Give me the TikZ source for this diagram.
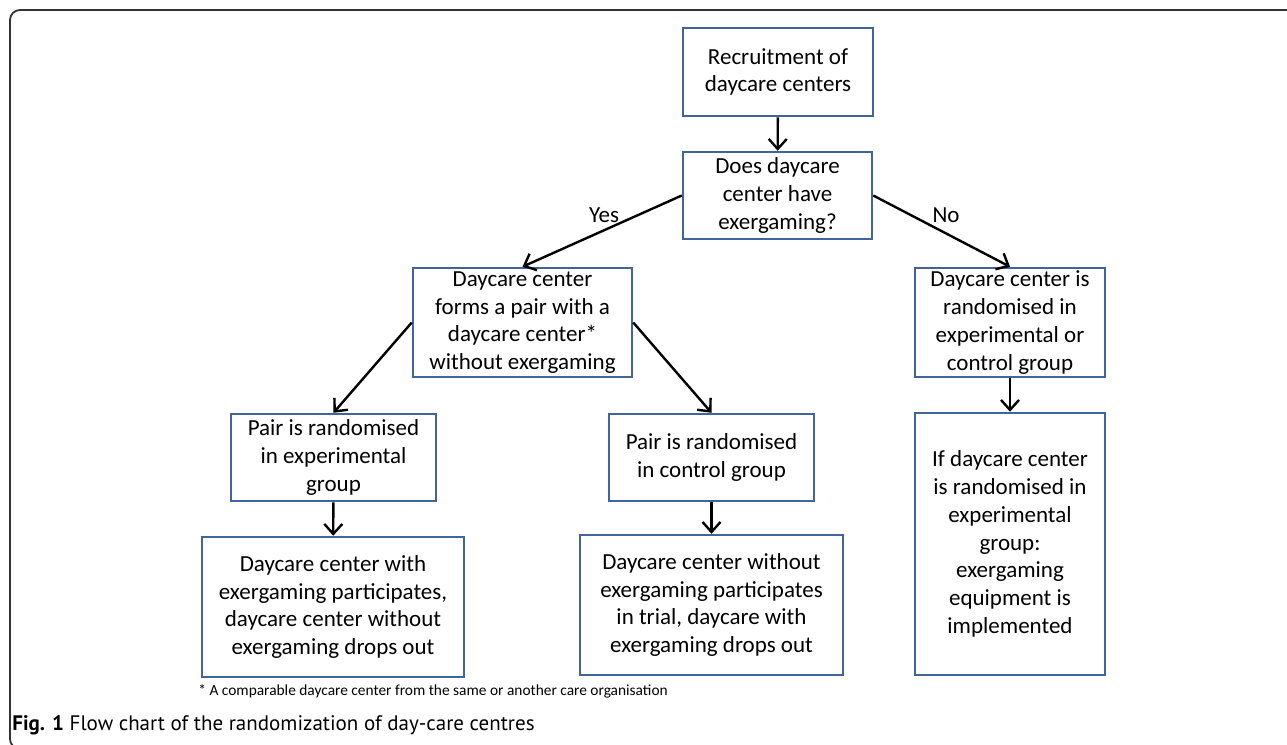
\documentclass[tikz,border=0pt]{standalone}
\usepackage{fontspec}
\setmainfont{Carlito}
\newfontfamily\capfont{PT Sans}
\usetikzlibrary{arrows, arrows.meta}
\usetikzlibrary{shapes}
\definecolor{boxblue}{RGB}{65,100,155}

\begin{document}
\begin{tikzpicture}[x=0.5pt,y=-0.5pt,>={Straight Barb[length=5pt,width=9pt]},
    box/.style={draw=boxblue,line width=1.25pt,align=center,inner sep=0pt,
      font=\fontsize{11.5}{13.9}\selectfont},
    link/.style={->,line width=1.2pt,black}]
    \useasboundingbox (0,0) rectangle (1287,745);
    \draw[black!80,line width=0.9pt,rounded corners=5pt] (1292,749) -- (10,749) -- (10,10) -- (1292,10);
    \node[box,minimum width=95pt,minimum height=44pt] (rec) at (778,72) {Recruitment of\\daycare centers};
    \node[box,minimum width=94.5pt,minimum height=43.5pt] (does) at (777.5,195.5) {Does daycare\\center have\\exergaming?};
    \node[box,minimum width=109.5pt,minimum height=54.5pt] (pair) at (522.5,322.5) {Daycare center\\forms a pair with a\\daycare center*\\without exergaming};
    \node[box,minimum width=95pt,minimum height=54.5pt] (rnd) at (1010,322.5) {Daycare center is\\randomised in\\experimental or\\control group};
    \node[box,minimum width=102.5pt,minimum height=43.5pt] (exp) at (333.5,457.5) {Pair is randomised\\in experimental\\group};
    \node[box,minimum width=102.5pt,minimum height=43.5pt] (ctl) at (711.5,457.5) {Pair is randomised\\in control group};
    \node[box,minimum width=131pt,minimum height=70pt] (expout) at (333,607) {Daycare center with\\exergaming participates,\\daycare center without\\exergaming drops out};
    \node[box,minimum width=131.5pt,minimum height=70pt] (ctlout) at (711.5,605) {Daycare center without\\exergaming participates\\in trial, daycare with\\exergaming drops out};
    \node[box,minimum width=95pt,minimum height=131pt] (impl) at (1010,544) {If daycare center\\is randomised in\\experimental\\group:\\exergaming\\equipment is\\implemented};
    \draw[link] (rec) -- (does);
    \draw[link] (does.west) -- (pair.north);
    \draw[link] (does.east) -- (rnd.north);
    \draw[link] (pair.west) -- (exp.north);
    \draw[link] (pair.east) -- (ctl.north);
    \draw[link] (exp) -- (expout);
    \draw[link] (ctl) -- (ctlout);
    \draw[link] (rnd) -- (impl);
    \node[font=\fontsize{11.5}{13.9}\selectfont] (yes) at (604,215) {Yes};
    \node[font=\fontsize{11.5}{13.9}\selectfont] (no) at (946,215) {No};
    \node[anchor=west,inner sep=0pt,font=\fontsize{7.7}{9}\selectfont] (note) at (198,691) {* A comparable daycare center from the same or another care organisation};
    \node[anchor=west,inner sep=0pt,font=\capfont\fontsize{10.5}{12}\selectfont] (cap) at (12,725) {\textbf{Fig. 1} Flow chart of the randomization of day-care centres};
\end{tikzpicture}
\end{document}
